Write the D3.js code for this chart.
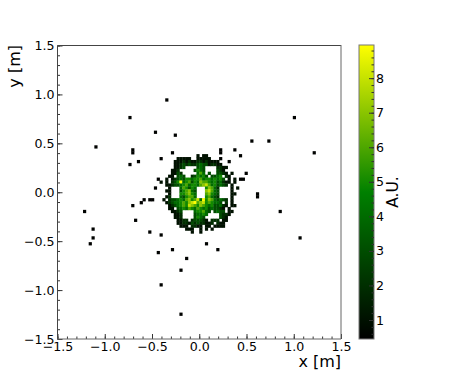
<!DOCTYPE html>
<html lang="en">
<head>
<meta charset="utf-8">
<title>Beam spot</title>
<script src="https://d3js.org/d3.v7.min.js"></script>
<style>
body { margin: 0; background: white; font-family: "DejaVu Sans", sans-serif; }
svg { display: block; }
</style>
</head>
<body>
<div id="my_dataviz"></div>
<script>
// bin size of the histogram in metres
var binSize = 0.03;

// isolated low-count bins around the spot
var strayX = [-0.36,-0.75,0.99,-0.48,-0.27,0.54,0.72,-1.11,-0.72,-0.72,-0.30,0.21,0.21,0.36,0.42,1.20,-0.42,0.21,-0.66,0.30,-0.75,0.48,-0.45,0.42,0.45,-0.48,0.60,0.60,-1.23,0.84,-0.72,-0.63,-0.60,-0.54,-0.51,-0.69,-1.14,-1.14,-1.17,-0.54,-0.42,1.05,0.06,0.18,-0.30,-0.45,-0.15,-0.21,-0.42,-0.21];
var strayY = [0.93,0.75,0.75,0.60,0.57,0.51,0.51,0.45,0.42,0.39,0.39,0.42,0.39,0.42,0.36,0.39,0.33,0.33,0.30,0.30,0.27,0.18,0.12,0.12,0.12,0.03,-0.03,-0.06,-0.21,-0.21,-0.15,-0.12,-0.09,-0.09,-0.09,-0.30,-0.39,-0.48,-0.54,-0.42,-0.45,-0.48,-0.54,-0.60,-0.60,-0.63,-0.69,-0.81,-0.96,-1.26];
var strayValue = 0.5;

// central part of the histogram, one string per row, "." = empty bin
var coreLeft = -0.42;
var coreTop = 0.36;
var coreRows = [
  ".............1.11............",
  "......11111..11111...........",
  ".....1112121122121111........",
  ".....11232322343312211.......",
  ".....1123....343....2211.....",
  "....112.....3543....321......",
  "....1132.....464.3..3321.1...",
  "...11.343..235453.3345.21....",
  "..1.1234355455645545453.1.1..",
  "1.1.235945635476654534211.1..",
  "..1123345645546786453432.1...",
  "...1...465354...57642....1.1.",
  "..11...356743...78643....1...",
  "...1...556754...67543....11..",
  "..12...435664...56432....1...",
  ".1.233454675684957643432.1...",
  "..12344565789678565443.2.1...",
  "...123456587657654533421.11..",
  "...11.34546546545343321.1....",
  "....1123....455643.3433.11...",
  ".....112....34454....3221....",
  ".....112....3543.....321.....",
  "......1122.233321.222.11.....",
  "......1122132322112.211......",
  ".......111.2211.11.1111......",
  ".........111..1.1.1..........",
  "...........1..1.............."
];

var axisTicks = [-1.5,-1.0,-0.5,0.0,0.5,1.0,1.5];
var minorTicks = d3.range(-15, 16).map(function(d) { return d / 10; });
var colorTicks = [1,2,3,4,5,6,7,8];
var colorMinor = d3.range(3, 45).map(function(d) { return d / 5; });
var colorMin = 0.45, colorMax = 8.96;

var svg = d3.select("#my_dataviz").append("svg")
  .attr("width", 458)
  .attr("height", 381);

var x = d3.scaleLinear().domain([-1.5, 1.5]).range([57.5, 341]);
var y = d3.scaleLinear().domain([-1.5, 1.5]).range([339, 45.5]);
var c = d3.scaleLinear().domain([colorMin, colorMax]).range([339, 45]);

var color = d3.scaleLinear()
  .domain([colorMin, (colorMin + colorMax) / 2, colorMax])
  .range(["#000000", "#008000", "#ffff00"])
  .clamp(true);

// flatten to bins
var bins = strayX.map(function(d, i) { return {x: d, y: strayY[i], v: strayValue}; });
coreRows.forEach(function(row, r) {
  row.split("").forEach(function(ch, k) {
    if (ch != ".") bins.push({x: coreLeft + k * binSize, y: coreTop - r * binSize, v: +ch});
  });
});

// little overlap so no seams show between neighbour bins
svg.append("g").selectAll("rect")
  .data(bins)
  .enter().append("rect")
    .attr("x", function(d) { return x(d.x); })
    .attr("y", function(d) { return y(d.y + binSize); })
    .attr("width", x(binSize) - x(0) + 0.35)
    .attr("height", y(0) - y(binSize) + 0.35)
    .attr("fill", function(d) { return color(d.v); });

function styleAxis(g) {
  g.select(".domain").remove();
  g.selectAll("line").attr("stroke", "#333");
  g.selectAll("text").attr("font-size", "12.6px").attr("font-family", "DejaVu Sans").attr("fill", "#000");
}

// minor ticks, then major ticks
svg.append("g").attr("transform", "translate(0,339)")
  .call(d3.axisBottom(x).tickValues(minorTicks).tickSize(-2.5).tickFormat(""))
  .call(styleAxis);
svg.append("g").attr("transform", "translate(0,339)")
  .call(d3.axisBottom(x).tickValues(axisTicks).tickSize(-5).tickPadding(3).tickFormat(d3.format(".1f")))
  .call(styleAxis);
svg.append("g").attr("transform", "translate(57.5,0)")
  .call(d3.axisLeft(y).tickValues(minorTicks).tickSize(-2.5).tickFormat(""))
  .call(styleAxis);
svg.append("g").attr("transform", "translate(57.5,0)")
  .call(d3.axisLeft(y).tickValues(axisTicks).tickSize(-5).tickPadding(3).tickFormat(d3.format(".1f")))
  .call(styleAxis);

// frame
svg.append("path").attr("d", "M57.5,339V45.5H341").attr("fill", "none").attr("stroke", "#444");
svg.append("path").attr("d", "M57.5,339H341V45").attr("fill", "none").attr("stroke", "#666");

svg.append("text").attr("x", 341).attr("y", 367).attr("text-anchor", "end")
  .attr("font-size", "16px").text("x [m]");
svg.append("text").attr("transform", "translate(20,45) rotate(-90)").attr("text-anchor", "end")
  .attr("font-size", "16px").text("y [m]");

// colorbar
var defs = svg.append("defs");
var grad = defs.append("linearGradient").attr("id", "cbar")
  .attr("x1", 0).attr("x2", 0).attr("y1", 1).attr("y2", 0);
grad.selectAll("stop").data([0, 0.5, 1]).enter().append("stop")
  .attr("offset", function(d) { return d; })
  .attr("stop-color", function(d) { return color(colorMin + d * (colorMax - colorMin)); });

svg.append("rect").attr("x", 359).attr("y", 45).attr("width", 15).attr("height", 294)
  .attr("fill", "url(#cbar)").attr("stroke", "#777");

svg.append("g").attr("transform", "translate(374,0)")
  .call(d3.axisLeft(c).tickValues(colorMinor).tickSize(2.5).tickFormat(""))
  .call(function(g) { g.select(".domain").remove(); g.selectAll("line").attr("stroke", "#333"); });
svg.append("g").attr("transform", "translate(374,0)")
  .call(d3.axisRight(c).tickValues(colorTicks).tickSize(-5).tickPadding(2))
  .call(styleAxis);

svg.append("text").attr("transform", "translate(398,192) rotate(-90)").attr("text-anchor", "middle")
  .attr("font-size", "15.5px").text("A.U.");
</script>
</body>
</html>
